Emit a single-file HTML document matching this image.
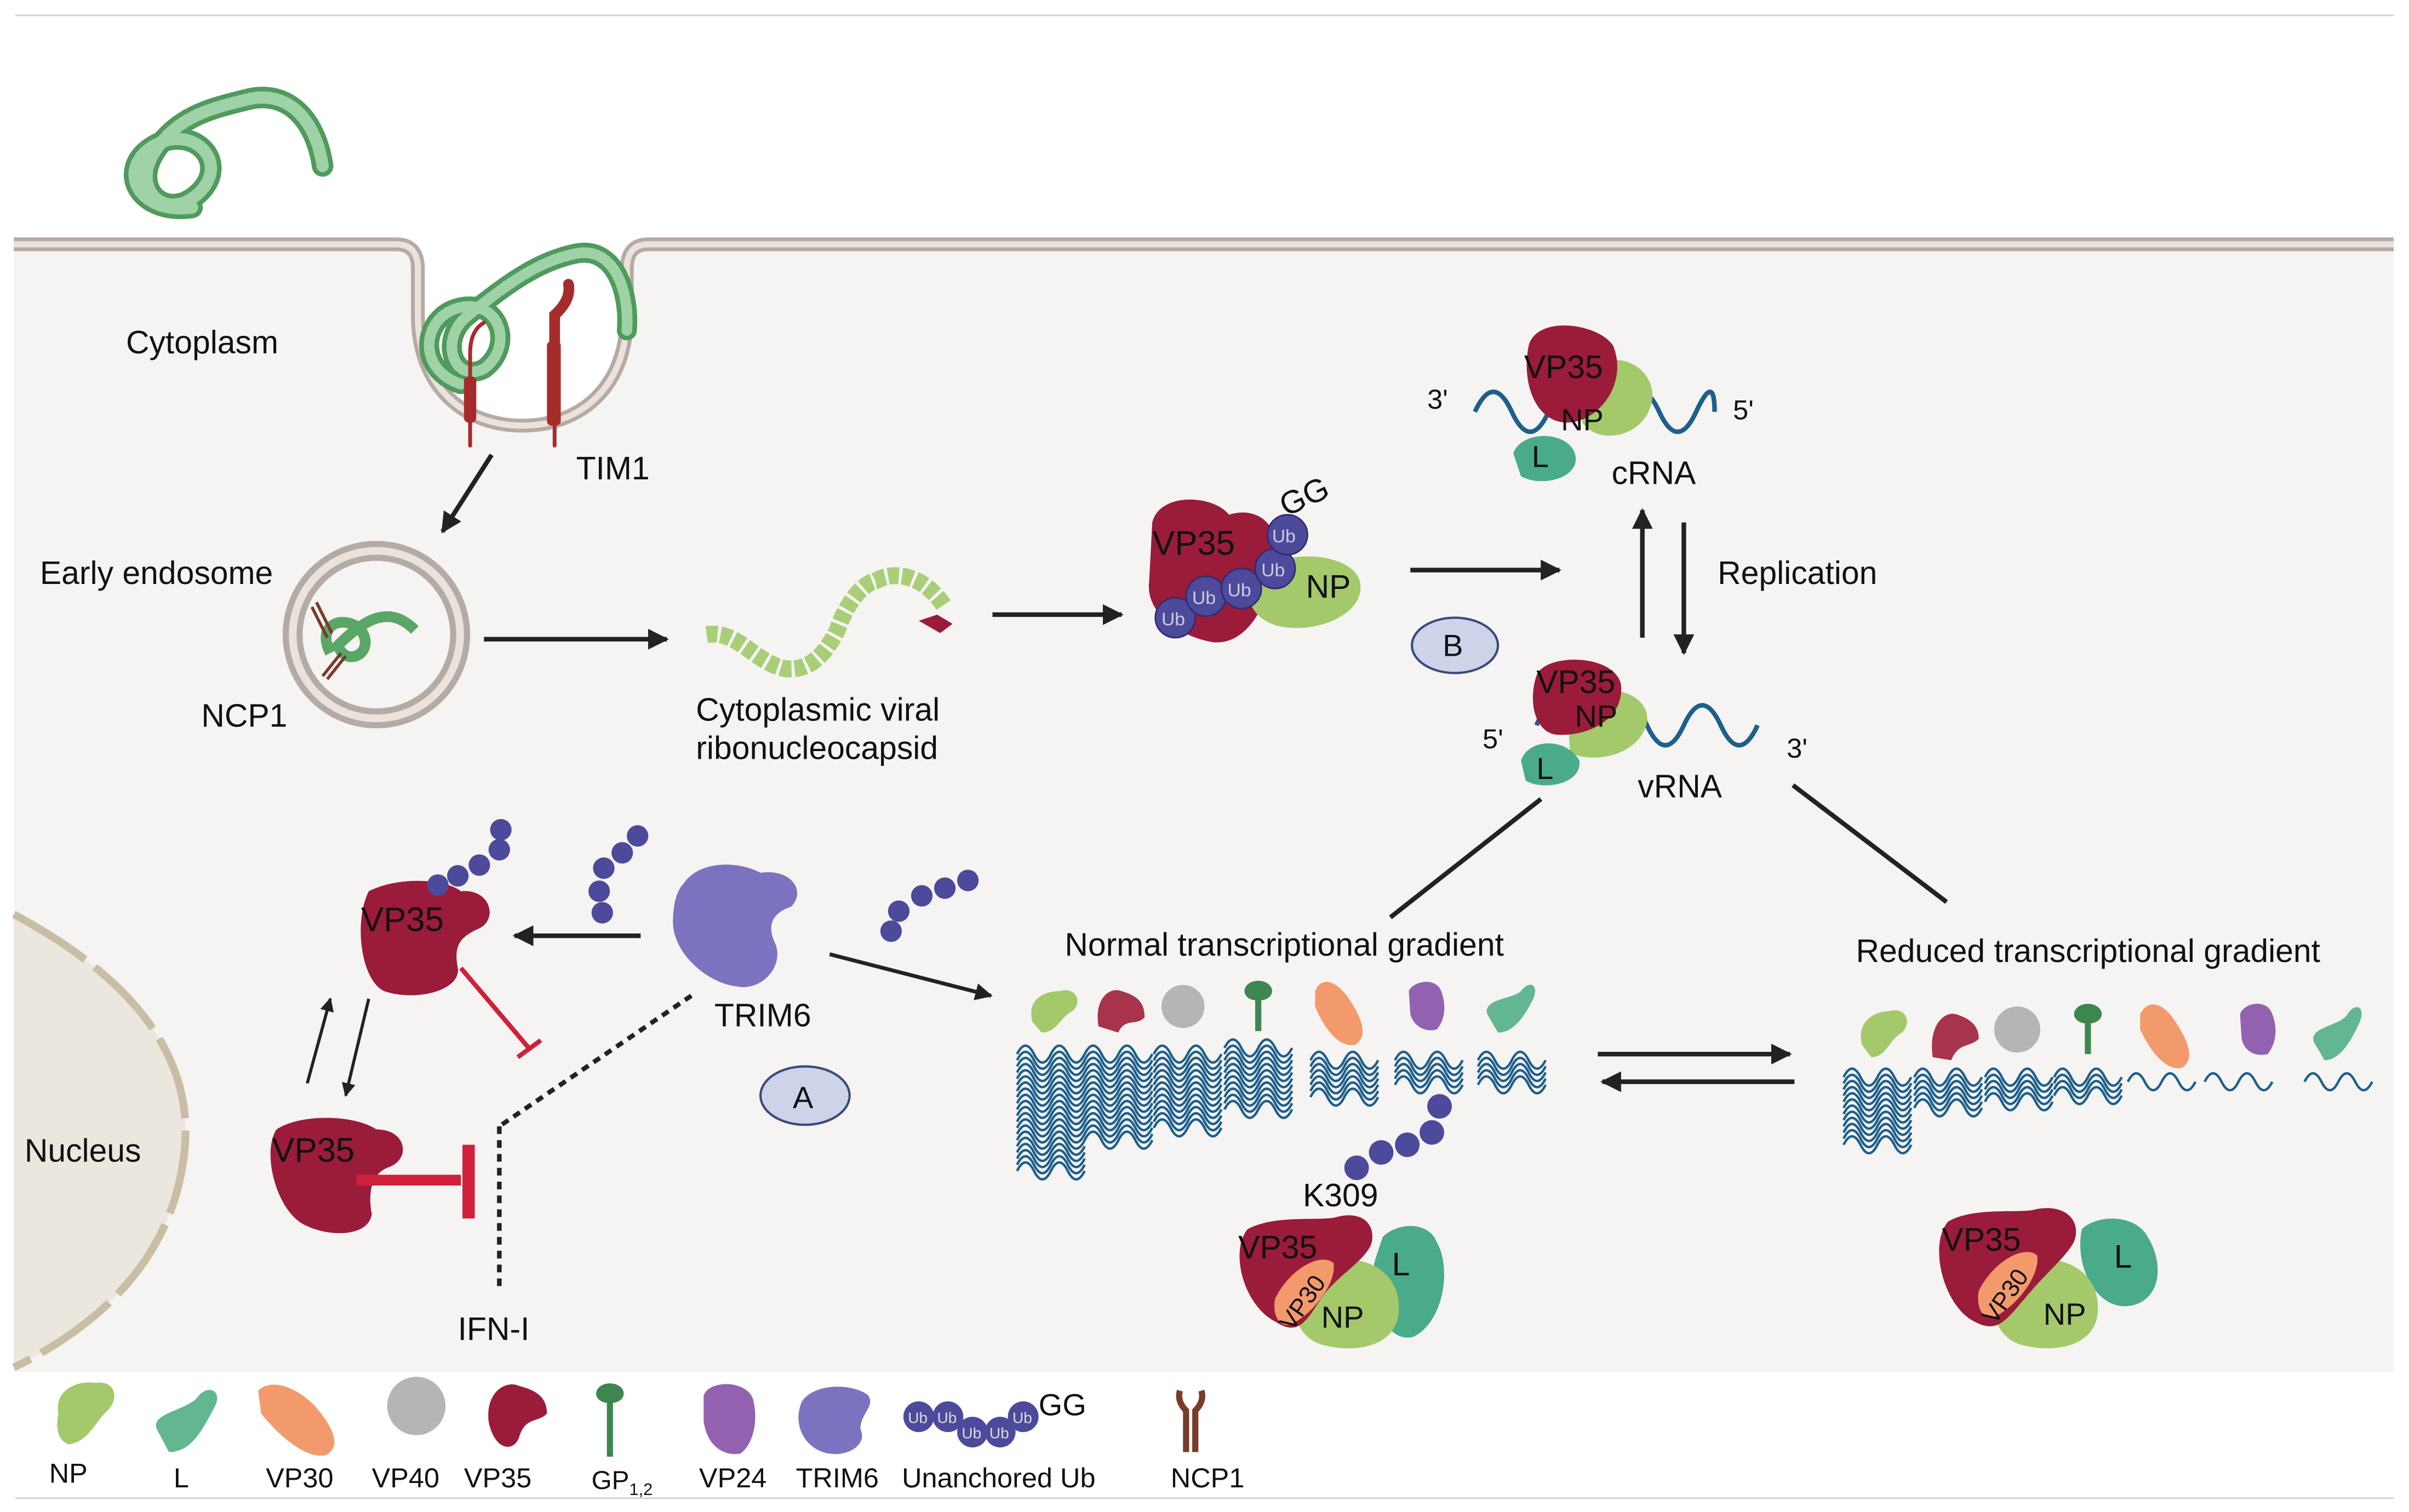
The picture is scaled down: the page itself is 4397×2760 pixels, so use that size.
<!DOCTYPE html>
<html><head><meta charset="utf-8"><style>
html,body{margin:0;padding:0;background:#fff;}
svg{display:block;}
text{font-family:"Liberation Sans",sans-serif;fill:#111;}
</style></head><body>
<svg width="4397" height="2760" viewBox="0 0 1568 984" preserveAspectRatio="none" xmlns="http://www.w3.org/2000/svg">
<defs>
<marker id="ah" viewBox="0 0 10 10" refX="9" refY="5" markerWidth="4.5" markerHeight="4.5" orient="auto"><path d="M0,0L10,5L0,10z" fill="#222"/></marker>
<path id="w" d="M0,6 q5.5,-11 11,0 t11,0 t11,0 t11,0" fill="none" stroke="#1e5f8c" stroke-width="1.6"/>
</defs>
<rect width="1568" height="984" fill="#fff"/>
<line x1="10" y1="10" x2="1558" y2="10" stroke="#d0d0d0" stroke-width="1"/>
<line x1="10" y1="975" x2="1558" y2="975" stroke="#d0d0d0" stroke-width="1"/>
<!-- cytoplasm -->
<rect x="9" y="162" width="1549" height="731" fill="#f5f4f2"/>
<path d="M268,162 Q272,162 272,178 V205 C272,252 302,277 340,277 C378,277 408,252 408,205 V178 Q408,162 412,162 Z" fill="#fff"/>
<!-- membrane -->
<path d="M9,159 H258 Q272,159 272,175 V205 C272,252 302,277 340,277 C378,277 408,252 408,205 V175 Q408,159 422,159 H1558" fill="none" stroke="#b5aba5" stroke-width="9"/>
<path d="M9,159 H258 Q272,159 272,175 V205 C272,252 302,277 340,277 C378,277 408,252 408,205 V175 Q408,159 422,159 H1558" fill="none" stroke="#ebe2de" stroke-width="4"/>
<!-- nucleus -->
<path d="M9,595 Q130,660 120,750 Q110,840 9,890 Z" fill="#ebe7df"/>
<path d="M9,595 Q130,660 120,750 Q110,840 9,890" fill="none" stroke="#c9bda4" stroke-width="5" stroke-dasharray="55,8"/>
<text x="16" y="756" font-size="21">Nucleus</text>
<!-- virus top -->
<g fill="none" stroke-linecap="round">
<path d="M125,135 C90,140 75,110 100,95 C125,80 150,105 130,125 C110,145 85,125 100,100 C115,75 140,70 160,65 C185,58 205,75 210,108" stroke="#4f9a5c" stroke-width="14"/>
<path d="M125,135 C90,140 75,110 100,95 C125,80 150,105 130,125 C110,145 85,125 100,100 C115,75 140,70 160,65 C185,58 205,75 210,108" stroke="#9fd2a6" stroke-width="8" stroke-dasharray="2,2"/>
<path d="M300,250 C270,240 275,205 300,200 C325,195 335,225 315,240 C295,250 285,220 305,205 C330,185 350,170 375,165 C400,160 410,190 408,215" stroke="#4f9a5c" stroke-width="13"/>
<path d="M300,250 C270,240 275,205 300,200 C325,195 335,225 315,240 C295,250 285,220 305,205 C330,185 350,170 375,165 C400,160 410,190 408,215" stroke="#9fd2a6" stroke-width="7" stroke-dasharray="2,2"/>
</g>
<!-- TIM1 -->
<g stroke="#a82b2b" stroke-linecap="round" fill="none">
<path d="M306,290 V230 Q306,215 315,210" stroke-width="2.5"/><rect x="302" y="245" width="8" height="30" fill="#a82b2b" stroke="none" rx="3"/>
<path d="M361,290 V220" stroke-width="2.5"/><rect x="356" y="222" width="9" height="55" fill="#a82b2b" stroke="none" rx="3"/>
<path d="M361,225 V205 Q372,195 370,185" stroke-width="7"/>
</g>
<text x="82" y="230" font-size="21">Cytoplasm</text>
<text x="375" y="312" font-size="21">TIM1</text>
<line x1="320" y1="296" x2="288" y2="346" stroke="#222" stroke-width="3" marker-end="url(#ah)"/>
<!-- endosome -->
<circle cx="245" cy="413" r="59" fill="#ebe2de" stroke="#b5aba5" stroke-width="4"/>
<circle cx="245" cy="413" r="50" fill="#f5f4f2" stroke="#b5aba5" stroke-width="4"/>
<path d="M215,425 C205,405 225,400 235,410 C245,425 225,435 220,420 C240,400 255,395 270,410" fill="none" stroke="#5aa667" stroke-width="7"/>
<path d="M203,395 L213,415 M206,392 L216,412 M210,440 L222,425 M213,442 L225,427" stroke="#7a3b2b" stroke-width="2"/>
<text x="26" y="380" font-size="21">Early endosome</text>
<text x="131" y="473" font-size="21">NCP1</text>
<line x1="315" y1="416" x2="434" y2="416" stroke="#222" stroke-width="3" marker-end="url(#ah)"/>
<!-- RNP -->
<path d="M460,413 C480,410 490,430 510,435 C530,438 540,420 545,410 C550,395 560,380 570,378 C580,372 600,372 615,395" fill="none" stroke="#a9ce78" stroke-width="11" stroke-dasharray="7,2"/>
<path d="M598,404 l12,-4 l10,6 l-8,6z" fill="#9b1b3a"/>
<text x="453" y="469" font-size="21">Cytoplasmic viral</text>
<text x="453" y="494" font-size="21">ribonucleocapsid</text>
<line x1="646" y1="400" x2="730" y2="400" stroke="#222" stroke-width="3" marker-end="url(#ah)"/>
<!-- VP35 Ub NP complex -->
<path d="M750,340 C755,320 790,322 800,335 C815,330 830,338 830,355 C830,385 815,420 790,418 C770,415 745,400 748,378 Z" fill="#9b1b3a"/>
<path d="M815,375 C835,355 880,360 885,378 C890,398 860,412 835,408 C818,405 808,392 815,375Z" fill="#a3c96a"/>
<g><circle cx="765" cy="402" r="13" fill="#4d4a9c" stroke="#2e2c70"/><circle cx="785" cy="388" r="13" fill="#4d4a9c" stroke="#2e2c70"/><circle cx="808" cy="383" r="13" fill="#4d4a9c" stroke="#2e2c70"/><circle cx="830" cy="370" r="13" fill="#4d4a9c" stroke="#2e2c70"/><circle cx="838" cy="348" r="13" fill="#4d4a9c" stroke="#2e2c70"/></g>
<text x="756" y="407" font-size="12" style="fill:#ccd">Ub</text><text x="776" y="393" font-size="12" style="fill:#ccd">Ub</text><text x="799" y="388" font-size="12" style="fill:#ccd">Ub</text><text x="821" y="375" font-size="12" style="fill:#ccd">Ub</text><text x="828" y="353" font-size="12" style="fill:#ccd">Ub</text>
<text x="750" y="361" font-size="22">VP35</text>
<text x="850" y="389" font-size="21">NP</text>
<text x="833" y="332" font-size="21" transform="rotate(-25 845 325)">GG</text>
<line x1="918" y1="371" x2="1015" y2="371" stroke="#222" stroke-width="3" marker-end="url(#ah)"/>
<ellipse cx="947" cy="420" rx="28" ry="18" fill="#cdd4ea" stroke="#3a4a7a" stroke-width="1.5"/><text x="939" y="427" font-size="20">B</text>
<!-- cRNA -->
<path d="M960,268 q12,-26 24,0 t24,0 t24,0 t24,0 t24,0 t24,0 t12,0" fill="none" stroke="#1e5f8c" stroke-width="3"/>
<path d="M1030,245 C1050,222 1080,240 1075,262 C1070,285 1040,290 1030,275Z" fill="#a3c96a"/>
<path d="M995,225 C1000,205 1040,210 1050,225 C1060,250 1040,275 1020,275 C1000,275 990,250 995,225Z" fill="#9b1b3a"/>
<path d="M985,295 C990,280 1020,280 1025,295 C1030,310 1005,318 990,310Z" fill="#4aab8a"/>
<text x="992" y="246" font-size="21">VP35</text><text x="1016" y="280" font-size="20">NP</text><text x="997" y="304" font-size="20">L</text>
<text x="929" y="266" font-size="18">3'</text><text x="1128" y="273" font-size="18">5'</text>
<text x="1049" y="315" font-size="21">cRNA</text>
<line x1="1069" y1="415" x2="1069" y2="332" stroke="#222" stroke-width="3" marker-end="url(#ah)"/>
<line x1="1096" y1="340" x2="1096" y2="425" stroke="#222" stroke-width="3" marker-end="url(#ah)"/>
<text x="1118" y="380" font-size="21">Replication</text>
<!-- vRNA -->
<path d="M1000,472 q12,-26 24,0 t24,0 t24,0 t24,0 t24,0 t24,0" fill="none" stroke="#1e5f8c" stroke-width="3"/>
<path d="M1020,460 C1040,440 1075,450 1072,470 C1068,490 1040,498 1022,490Z" fill="#a3c96a"/>
<path d="M1000,440 C1005,425 1050,425 1055,445 C1058,470 1030,480 1012,478 C998,475 995,455 1000,440Z" fill="#9b1b3a"/>
<path d="M990,495 C995,480 1020,480 1028,495 C1030,510 1005,515 993,508Z" fill="#4aab8a"/>
<text x="1000" y="451" font-size="21">VP35</text><text x="1025" y="473" font-size="20">NP</text><text x="1000" y="507" font-size="20">L</text>
<text x="965" y="487" font-size="18">5'</text><text x="1163" y="493" font-size="18">3'</text>
<text x="1066" y="519" font-size="21">vRNA</text>
<line x1="1003" y1="520" x2="905" y2="597" stroke="#222" stroke-width="3"/>
<line x1="1167" y1="511" x2="1267" y2="587" stroke="#222" stroke-width="3"/>
<text x="693" y="622" font-size="21">Normal transcriptional gradient</text>
<text x="1208" y="626" font-size="21">Reduced transcriptional gradient</text>
<!-- left panel -->
<path d="M240,580 C260,570 290,572 300,580 C320,578 325,600 310,605 C300,610 295,615 298,630 C300,645 270,652 250,645 C235,638 230,600 240,580Z" fill="#9b1b3a"/>
<text x="235" y="606" font-size="22">VP35</text>
<circle cx="285" cy="576" r="7" fill="#4d4a9c"/><circle cx="298" cy="570" r="7" fill="#4d4a9c"/><circle cx="312" cy="563" r="7" fill="#4d4a9c"/><circle cx="325" cy="553" r="7" fill="#4d4a9c"/><circle cx="326" cy="540" r="7" fill="#4d4a9c"/>
<circle cx="390" cy="580" r="7" fill="#4d4a9c"/><circle cx="393" cy="565" r="7" fill="#4d4a9c"/><circle cx="405" cy="555" r="7" fill="#4d4a9c"/><circle cx="415" cy="544" r="7" fill="#4d4a9c"/><circle cx="392" cy="594" r="7" fill="#4d4a9c"/>
<circle cx="580" cy="606" r="7" fill="#4d4a9c"/><circle cx="585" cy="593" r="7" fill="#4d4a9c"/><circle cx="600" cy="583" r="7" fill="#4d4a9c"/><circle cx="615" cy="578" r="7" fill="#4d4a9c"/><circle cx="630" cy="573" r="7" fill="#4d4a9c"/>
<!-- TRIM6 -->
<path d="M445,575 C455,560 480,560 495,568 C515,565 525,580 515,590 C500,595 500,605 505,615 C510,630 495,645 480,642 C460,640 438,620 438,600 C438,590 440,580 445,575Z" fill="#7b72c0"/>
<text x="465" y="668" font-size="21">TRIM6</text>
<line x1="417" y1="609" x2="335" y2="609" stroke="#222" stroke-width="3" marker-end="url(#ah)"/>
<line x1="540" y1="621" x2="645" y2="648" stroke="#222" stroke-width="2.5" marker-end="url(#ah)"/>
<line x1="450" y1="648" x2="325" y2="733" stroke="#222" stroke-width="3" stroke-dasharray="5,4"/>
<line x1="325" y1="733" x2="325" y2="840" stroke="#222" stroke-width="3" stroke-dasharray="5,4"/>
<text x="298" y="872" font-size="21">IFN-I</text>
<line x1="300" y1="630" x2="345" y2="683" stroke="#d0203a" stroke-width="3"/><line x1="337" y1="688" x2="352" y2="677" stroke="#d0203a" stroke-width="3"/>
<line x1="200" y1="705" x2="215" y2="650" stroke="#222" stroke-width="2" marker-end="url(#ah)"/>
<line x1="240" y1="650" x2="225" y2="713" stroke="#222" stroke-width="2" marker-end="url(#ah)"/>
<path d="M180,735 C195,725 230,725 245,735 C265,735 268,755 252,760 C240,765 240,780 242,790 C240,805 215,805 200,798 C180,790 170,750 180,735Z" fill="#9b1b3a"/>
<text x="177" y="756" font-size="22">VP35</text>
<line x1="232" y1="768" x2="300" y2="768" stroke="#d0203a" stroke-width="7"/><line x1="305" y1="745" x2="305" y2="793" stroke="#d0203a" stroke-width="8"/>
<ellipse cx="524" cy="713" rx="29" ry="19" fill="#cdd4ea" stroke="#3a4a7a" stroke-width="1.5"/><text x="516" y="721" font-size="20">A</text>
<!-- Normal gradient proteins -->
<g>
<path d="M672,665 C668,650 680,645 690,645 C700,642 705,652 698,658 C690,662 688,672 678,672Z" fill="#a3c96a"/>
<path d="M715,668 C712,650 722,642 730,645 C740,648 745,652 745,662 C740,668 732,662 728,672 Z" fill="#a8334c"/>
<circle cx="770" cy="655" r="14" fill="#b5b5b5"/>
<path d="M810,645 a8,6 0 1 1 18,0 a8,6 0 0 1 -7,6 v20 h-4 v-20 a8,6 0 0 1 -7,-6z" fill="#3e8650"/>
<path d="M856,645 C860,635 870,638 878,650 C888,665 890,675 882,680 C872,682 862,670 856,655Z" fill="#f39a6d"/>
<path d="M917,645 C920,638 935,636 938,645 C942,655 940,665 935,670 C928,672 920,668 918,660Z" fill="#9262b0"/>
<path d="M968,660 C965,650 985,650 990,645 C995,638 1002,640 998,650 C992,662 985,672 975,672Z" fill="#62b792"/>
</g>
<g>
<g transform="translate(662,680)"><use href="#w"/><use href="#w" y="4"/><use href="#w" y="8"/><use href="#w" y="12"/><use href="#w" y="16"/><use href="#w" y="20"/><use href="#w" y="24"/><use href="#w" y="28"/><use href="#w" y="32"/><use href="#w" y="36"/><use href="#w" y="40"/><use href="#w" y="44"/><use href="#w" y="48"/><use href="#w" y="52"/><use href="#w" y="56"/><use href="#w" y="60"/><use href="#w" y="64"/><use href="#w" y="68"/><use href="#w" y="72"/><use href="#w" y="76"/></g>
<g transform="translate(706,680)"><use href="#w"/><use href="#w" y="4"/><use href="#w" y="8"/><use href="#w" y="12"/><use href="#w" y="16"/><use href="#w" y="20"/><use href="#w" y="24"/><use href="#w" y="28"/><use href="#w" y="32"/><use href="#w" y="36"/><use href="#w" y="40"/><use href="#w" y="44"/><use href="#w" y="48"/><use href="#w" y="52"/><use href="#w" y="56"/></g>
<g transform="translate(751,680)"><use href="#w"/><use href="#w" y="4"/><use href="#w" y="8"/><use href="#w" y="12"/><use href="#w" y="16"/><use href="#w" y="20"/><use href="#w" y="24"/><use href="#w" y="28"/><use href="#w" y="32"/><use href="#w" y="36"/><use href="#w" y="40"/><use href="#w" y="44"/><use href="#w" y="48"/></g>
<g transform="translate(797,676)"><use href="#w"/><use href="#w" y="4"/><use href="#w" y="8"/><use href="#w" y="12"/><use href="#w" y="16"/><use href="#w" y="20"/><use href="#w" y="24"/><use href="#w" y="28"/><use href="#w" y="32"/><use href="#w" y="36"/><use href="#w" y="40"/></g>
<g transform="translate(853,684)"><use href="#w"/><use href="#w" y="4"/><use href="#w" y="8"/><use href="#w" y="12"/><use href="#w" y="16"/><use href="#w" y="20"/><use href="#w" y="24"/></g>
<g transform="translate(908,684)"><use href="#w"/><use href="#w" y="4"/><use href="#w" y="8"/><use href="#w" y="12"/><use href="#w" y="16"/></g>
<g transform="translate(962,684)"><use href="#w"/><use href="#w" y="4"/><use href="#w" y="8"/><use href="#w" y="12"/><use href="#w" y="16"/></g>
</g>
<line x1="1040" y1="686" x2="1165" y2="686" stroke="#222" stroke-width="3" marker-end="url(#ah)"/>
<line x1="1168" y1="704" x2="1043" y2="704" stroke="#222" stroke-width="3" marker-end="url(#ah)"/>
<!-- Reduced proteins -->
<g>
<path d="M1212,680 C1208,665 1220,658 1230,658 C1240,655 1245,665 1238,672 C1230,676 1228,688 1218,688Z" fill="#a3c96a"/>
<path d="M1258,688 C1255,668 1265,658 1273,660 C1283,663 1288,668 1288,676 C1282,682 1275,678 1270,690 Z" fill="#a8334c"/>
<circle cx="1313" cy="670" r="15" fill="#b5b5b5"/>
<path d="M1350,660 a8,6 0 1 1 18,0 a8,6 0 0 1 -7,6 v20 h-4 v-20 a8,6 0 0 1 -7,-6z" fill="#3e8650"/>
<path d="M1393,660 C1398,650 1408,652 1416,665 C1426,680 1428,690 1420,695 C1410,697 1400,685 1393,670Z" fill="#f39a6d"/>
<path d="M1458,660 C1461,652 1476,650 1479,660 C1483,670 1481,680 1476,686 C1468,688 1460,684 1459,675Z" fill="#9262b0"/>
<path d="M1506,678 C1503,668 1523,668 1528,660 C1533,652 1540,655 1536,665 C1530,678 1523,690 1513,690Z" fill="#62b792"/>
</g>
<g>
<g transform="translate(1200,695)"><use href="#w"/><use href="#w" y="4"/><use href="#w" y="8"/><use href="#w" y="12"/><use href="#w" y="16"/><use href="#w" y="20"/><use href="#w" y="24"/><use href="#w" y="28"/><use href="#w" y="32"/><use href="#w" y="36"/><use href="#w" y="40"/><use href="#w" y="44"/></g>
<g transform="translate(1246,695)"><use href="#w"/><use href="#w" y="4"/><use href="#w" y="8"/><use href="#w" y="12"/><use href="#w" y="16"/><use href="#w" y="20"/></g>
<g transform="translate(1292,695)"><use href="#w"/><use href="#w" y="4"/><use href="#w" y="8"/><use href="#w" y="12"/><use href="#w" y="16"/></g>
<g transform="translate(1337,695)"><use href="#w"/><use href="#w" y="4"/><use href="#w" y="8"/><use href="#w" y="12"/></g>
<g transform="translate(1385,698)"><use href="#w"/></g>
<g transform="translate(1435,698)"><use href="#w"/></g>
<g transform="translate(1500,698)"><use href="#w"/></g>
</g>
<!-- K309 complex -->
<circle cx="883" cy="760" r="8" fill="#4d4a9c"/><circle cx="899" cy="750" r="8" fill="#4d4a9c"/><circle cx="916" cy="745" r="8" fill="#4d4a9c"/><circle cx="932" cy="737" r="8" fill="#4d4a9c"/><circle cx="937" cy="720" r="8" fill="#4d4a9c"/>
<text x="848" y="785" font-size="21">K309</text>
<path d="M900,805 C910,795 930,795 935,808 C945,825 940,860 920,870 C900,875 890,840 895,820Z" fill="#4aab8a"/>
<path d="M845,840 C860,810 905,815 910,845 C915,875 885,882 860,875 C845,870 840,855 845,840Z" fill="#a3c96a"/>
<path d="M812,800 C830,790 860,795 870,792 C885,788 895,795 893,808 C890,820 870,830 860,845 C850,860 845,870 830,860 C810,850 800,815 812,800Z" fill="#9b1b3a"/>
<path d="M830,845 C840,825 860,815 868,822 C870,835 855,855 840,862 C832,864 828,855 830,845Z" fill="#f39a6d"/>
<text x="806" y="819" font-size="21">VP35</text><text x="906" y="830" font-size="21">L</text><text x="860" y="864" font-size="20">NP</text>
<text x="826" y="858" font-size="16" transform="rotate(-55 842 848)">VP30</text>
<!-- reduced complex -->
<path d="M1355,800 C1365,790 1390,790 1398,805 C1410,825 1405,848 1385,850 C1365,852 1350,825 1355,800Z" fill="#4aab8a"/>
<path d="M1300,840 C1315,810 1360,815 1365,845 C1370,875 1340,882 1315,875 C1300,870 1295,855 1300,840Z" fill="#a3c96a"/>
<path d="M1268,795 C1285,785 1315,790 1325,787 C1345,783 1355,795 1350,808 C1345,818 1330,830 1318,845 C1305,860 1300,868 1285,860 C1265,850 1255,810 1268,795Z" fill="#9b1b3a"/>
<path d="M1288,840 C1298,820 1318,810 1326,817 C1328,830 1313,850 1298,857 C1290,859 1286,850 1288,840Z" fill="#f39a6d"/>
<text x="1264" y="814" font-size="21">VP35</text><text x="1376" y="825" font-size="21">L</text><text x="1330" y="862" font-size="20">NP</text>
<text x="1283" y="853" font-size="16" transform="rotate(-55 1300 843)">VP30</text>
<!-- legend -->
<path d="M38,920 C35,905 50,898 62,900 C75,898 78,910 70,918 C62,925 58,938 45,940 C38,938 36,930 38,920Z" fill="#a3c96a"/>
<text x="32" y="965" font-size="18">NP</text>
<path d="M102,930 C98,920 120,918 128,910 C135,900 145,905 140,915 C132,930 125,945 110,945Z" fill="#62b792"/>
<text x="113" y="968" font-size="18">L</text>
<path d="M168,905 C175,898 190,900 205,915 C218,930 222,942 212,947 C200,950 182,935 170,920Z" fill="#f39a6d"/>
<text x="173" y="968" font-size="18">VP30</text>
<circle cx="271" cy="915" r="19" fill="#b5b5b5"/>
<text x="242" y="968" font-size="18">VP40</text>
<path d="M318,925 C316,905 330,898 338,902 C350,905 356,910 356,920 C350,926 342,922 338,935 C335,945 322,945 318,925Z" fill="#9b1b3a"/>
<text x="302" y="968" font-size="18">VP35</text>
<path d="M388,907 a8,6 0 1 1 18,0 a8,6 0 0 1 -7,6 v35 h-4 v-35 a8,6 0 0 1 -7,-6z" fill="#3e8650"/>
<text x="385" y="969" font-size="17">GP<tspan font-size="11" dy="4">1,2</tspan></text>
<path d="M458,908 C462,898 485,898 490,910 C494,925 490,940 482,946 C470,948 460,940 458,925Z" fill="#9262b0"/>
<text x="455" y="968" font-size="18">VP24</text>
<path d="M522,912 C530,900 555,900 565,908 C570,915 560,920 560,930 C565,940 552,948 540,946 C525,944 515,928 522,912Z" fill="#7b72c0"/>
<text x="518" y="968" font-size="18">TRIM6</text>
<circle cx="598" cy="922" r="10" fill="#4d4a9c"/><circle cx="617" cy="922" r="10" fill="#4d4a9c"/><circle cx="633" cy="932" r="10" fill="#4d4a9c"/><circle cx="651" cy="932" r="10" fill="#4d4a9c"/><circle cx="666" cy="922" r="10" fill="#4d4a9c"/>
<text x="591" y="926" font-size="10" style="fill:#ddd">Ub</text><text x="610" y="926" font-size="10" style="fill:#ddd">Ub</text><text x="626" y="936" font-size="10" style="fill:#ddd">Ub</text><text x="644" y="936" font-size="10" style="fill:#ddd">Ub</text><text x="659" y="926" font-size="10" style="fill:#ddd">Ub</text>
<text x="676" y="921" font-size="20">GG</text>
<text x="587" y="968" font-size="18">Unanchored Ub</text>
<path d="M772,945 V918 Q766,912 768,905 M778,945 V918 Q784,912 782,905" fill="none" stroke="#7a3b2b" stroke-width="4"/>
<text x="762" y="968" font-size="18">NCP1</text>
</svg>
</body></html>
